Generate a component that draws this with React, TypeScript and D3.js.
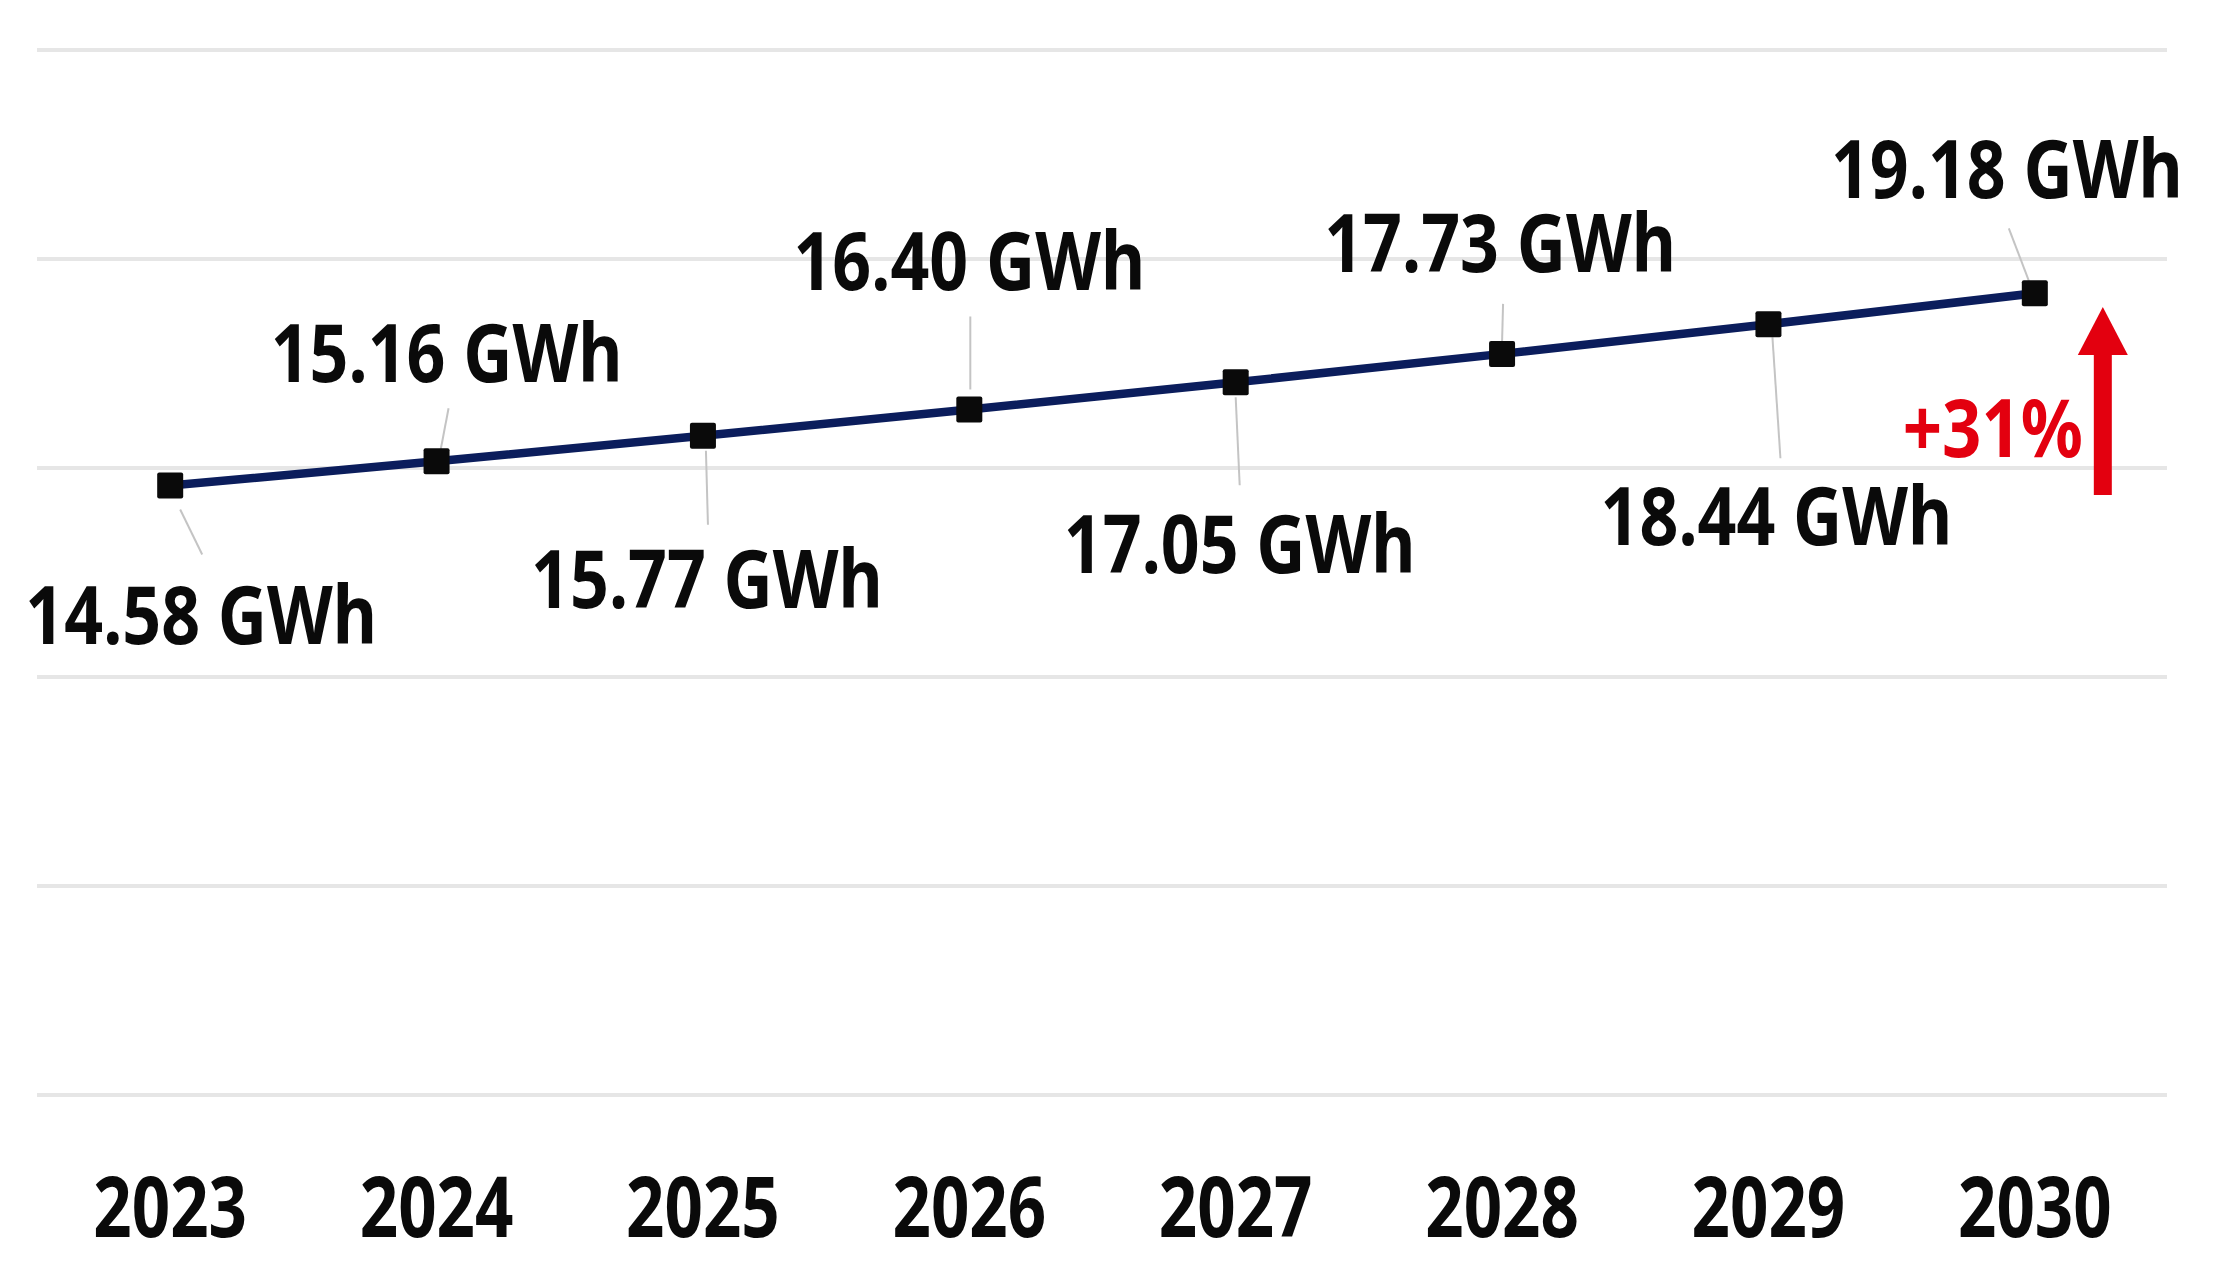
import React from "react";
import * as d3 from "d3";

const years = ["2023", "2024", "2025", "2026", "2027", "2028", "2029", "2030"];
const values = [14.58, 15.16, 15.77, 16.4, 17.05, 17.73, 18.44, 19.18];
const unit = "GWh";
const growthLabel = "+31%";
const yTicks = [0, 5, 10, 15, 20, 25];

// label placement relative to each point (layout only)
const labelOffsets = [
  { dx: 31, dy: 158, l1: [10, 24], l2: [32, 69] },
  { dx: 10, dy: -79, l1: [4, -11], l2: [12, -53] },
  { dx: 4, dy: 172, l1: [3, 15], l2: [5, 89] },
  { dx: 0, dy: -119, l1: [1, -20], l2: [1, -93] },
  { dx: 4, dy: 191, l1: [0, 15], l2: [4, 103] },
  { dx: -2, dy: -82, l1: [0, -12], l2: [1, -50] },
  { dx: 8, dy: 221, l1: [4, 13], l2: [12, 134] },
  { dx: -28, dy: -95, l1: [-5, -10], l2: [-26, -65] },
];

const W = 2217;
const H = 1276;
const FONT = "'Noto Sans', 'Open Sans', sans-serif";

export default function App() {
  const x = d3.scalePoint<string>().domain(years).range([37, 2168]).padding(0.5);
  const y = d3.scaleLinear().domain([0, 25]).range([1095, 50]);
  const line = d3
    .line<number>()
    .x((_, i) => x(years[i]) as number)
    .y((v) => y(v));

  const lastX = x(years[years.length - 1]) as number;
  const arrowX = lastX + 68;

  return (
    <svg
      width={W}
      height={H}
      style={{ position: "absolute", left: 0, top: 0, background: "#fff" }}
      fontFamily={FONT}
    >
      <rect width={W} height={H} fill="#fff" />
      {yTicks.map((t) => (
        <line key={t} x1={37} x2={2167} y1={y(t)} y2={y(t)} stroke="#e6e6e6" strokeWidth={4} />
      ))}

      {/* leader lines */}
      {values.map((v, i) => {
        const px = x(years[i]) as number;
        const py = y(v);
        const o = labelOffsets[i];
        return (
          <line
            key={"ll" + i}
            x1={px + o.l1[0]}
            y1={py + o.l1[1]}
            x2={px + o.l2[0]}
            y2={py + o.l2[1]}
            stroke="#c4c4c4"
            strokeWidth={2}
          />
        );
      })}

      <path d={line(values) || ""} fill="none" stroke="#0b1d5c" strokeWidth={8.5} />

      {values.map((v, i) => {
        const px = x(years[i]) as number;
        const py = y(v);
        return <rect key={"m" + i} x={px - 13} y={py - 13} width={26} height={26} fill="#0a0a0a" rx={2} />;
      })}

      {values.map((v, i) => {
        const px = x(years[i]) as number;
        const py = y(v);
        const o = labelOffsets[i];
        return (
          <text
            key={"t" + i}
            transform={`translate(${px + o.dx},${py + o.dy}) scale(0.84,1)`}
            textAnchor="middle"
            fontSize={81}
            fontWeight={700}
            fill="#0a0a0a"
          >
            {`${v.toFixed(2)} ${unit}`}
          </text>
        );
      })}

      {years.map((yr) => (
        <text
          key={yr}
          transform={`translate(${x(yr)},1237) scale(0.8,1)`}
          textAnchor="middle"
          fontSize={84}
          fontWeight={700}
          fill="#0a0a0a"
        >
          {yr}
        </text>
      ))}

      {/* growth annotation */}
      <text
        transform={`translate(${arrowX - 110},457) scale(0.85,1)`}
        textAnchor="middle"
        fontSize={81}
        fontWeight={700}
        fill="#e3000f"
      >
        {growthLabel}
      </text>
      <rect x={arrowX - 9} y={350} width={18} height={145} fill="#e3000f" />
      <path
        d={`M${arrowX - 25},355 L${arrowX},307 L${arrowX + 25},355 Z`}
        fill="#e3000f"
      />
    </svg>
  );
}
